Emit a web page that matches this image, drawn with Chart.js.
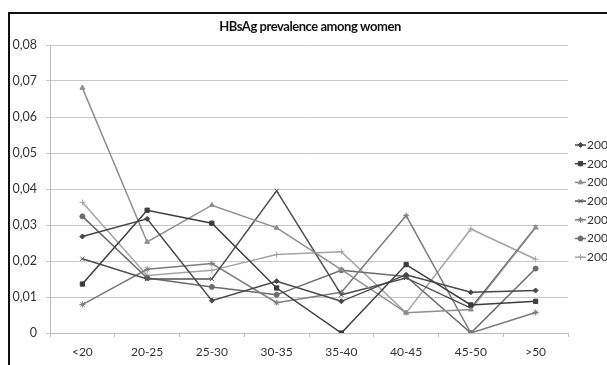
<!DOCTYPE html>
<html>
<head>
<meta charset="utf-8">
<script src="https://cdn.jsdelivr.net/npm/chart.js@4/dist/chart.umd.min.js"></script>
<style>
    body { margin: 0; background: #fff; }
    #wrap { position: relative; width: 607px; height: 365px; overflow: hidden; }
    #frame { position: absolute; left: 8px; top: 12px; width: 700px; height: 400px;
             border-left: 2px solid #111; border-top: 2px solid #111; }
    canvas { position: absolute; left: 0; top: 0; }
</style>
</head>
<body>
<div id="wrap">
    <div id="frame"></div>
    <canvas id="prevChart" width="607" height="365"></canvas>
</div>
<script>
// age groups on the x axis
var categories = ['<20', '20-25', '25-30', '30-35', '35-40', '40-45', '45-50', '>50'];
// legend text (cut off at the right edge in the original)
var seriesLabels = ['200', '200', '200', '200', '200', '200', '200'];
var chartTitle = 'HBsAg prevalence among women';

// prevalence per series
var series1 = [0.0268, 0.0317, 0.0090, 0.0144, 0.0088, 0.0162, 0.0113, 0.0118];
var series2 = [0.0136, 0.0341, 0.0305, 0.0125, 0.0000, 0.0190, 0.0078, 0.0088];
var series3 = [0.0681, 0.0253, 0.0355, 0.0292, 0.0176, 0.0056, 0.0065, 0.0293];
var series4 = [0.0206, 0.0150, 0.0150, 0.0395, 0.0106, 0.0153, 0.0069, 0.0294];
var series5 = [0.0079, 0.0177, 0.0193, 0.0084, 0.0113, 0.0326, 0.0000, 0.0057];
var series6 = [0.0324, 0.0153, 0.0128, 0.0106, 0.0174, 0.0157, 0.0000, 0.0179];
var series7 = [0.0363, 0.0160, 0.0174, 0.0218, 0.0226, 0.0056, 0.0289, 0.0205];

var allSeries = [series1, series2, series3, series4, series5, series6, series7];
var colors = ['#474747', '#3c3c3c', '#8e8e8e', '#505050', '#7c7c7c', '#6c6c6c', '#a4a4a4'];
var markers = ['rectRot', 'rect', 'triangle', 'crossRot', 'star', 'circle', 'cross'];
var markerSizes = [2.5, 3, 2.8, 3, 3, 2.5, 3];

var datasets = allSeries.map(function (vals, i) {
    return {
        label: seriesLabels[i],
        data: vals,
        borderColor: colors[i],
        backgroundColor: colors[i],
        pointBackgroundColor: colors[i],
        pointBorderColor: colors[i],
        pointStyle: markers[i],
        pointRadius: markerSizes[i],
        pointBorderWidth: 1,
        borderWidth: 1.5,
        tension: 0,
        fill: false
    };
});

// title centred over the plot area, plus an Excel-like legend (line with marker)
var titleAndLegend = {
    id: 'titleAndLegend',
    afterDraw: function (chart) {
        var ctx = chart.ctx;
        var area = chart.chartArea;
        ctx.save();
        ctx.fillStyle = '#111';
        ctx.font = 'bold 13px Lato, sans-serif';
        if ('letterSpacing' in ctx) ctx.letterSpacing = '-0.45px';
        ctx.textAlign = 'center';
        ctx.textBaseline = 'middle';
        ctx.fillText(chartTitle, (area.left + area.right) / 2 + 1, 27);
        ctx.restore();

        chart.data.datasets.forEach(function (ds, i) {
            var y = 145 + i * 18.7;
            ctx.save();
            ctx.strokeStyle = ds.borderColor;
            ctx.fillStyle = ds.borderColor;
            ctx.lineWidth = 1.5;
            ctx.beginPath();
            ctx.moveTo(575, y);
            ctx.lineTo(586, y);
            ctx.stroke();
            ctx.lineWidth = 1;
            Chart.helpers.drawPoint(ctx, { pointStyle: ds.pointStyle, radius: ds.pointRadius, borderWidth: 1 }, 580.5, y);
            ctx.fillStyle = '#333';
            ctx.font = '12px Lato';
            ctx.textBaseline = 'middle';
            ctx.textAlign = 'left';
            ctx.fillText(ds.label, 587, y);
            ctx.restore();
        });
    }
};

var ctx = document.getElementById('prevChart').getContext('2d');
var chart = new Chart(ctx, {
    type: 'line',
    data: { labels: categories, datasets: datasets },
    plugins: [titleAndLegend],
    options: {
        responsive: false,
        animation: false,
        layout: { padding: { left: 0, right: 39, top: 45, bottom: 0 } },
        plugins: {
            legend: { display: false },
            tooltip: { enabled: false },
            title: { display: false }
        },
        scales: {
            x: {
                offset: true,
                grid: { offset: true, drawOnChartArea: false, drawTicks: true, tickLength: 4, color: '#bdbdbd' },
                border: { color: '#bdbdbd' },
                ticks: { color: '#333', padding: 8, font: { family: 'Lato', size: 12 }, maxRotation: 0 },
                afterFit: function (scale) { scale.height = 32; }
            },
            y: {
                min: 0,
                max: 0.08,
                grid: { color: '#c8c8c8', tickLength: 4 },
                border: { color: '#bdbdbd' },
                ticks: {
                    stepSize: 0.01,
                    color: '#333',
                    padding: 9,
                    font: { family: 'Lato', size: 12.5 },
                    callback: function (v) { return v === 0 ? '0' : v.toFixed(2).replace('.', ','); }
                },
                afterFit: function (scale) { scale.width = 50; }
            }
        }
    }
});
</script>
</body>
</html>
